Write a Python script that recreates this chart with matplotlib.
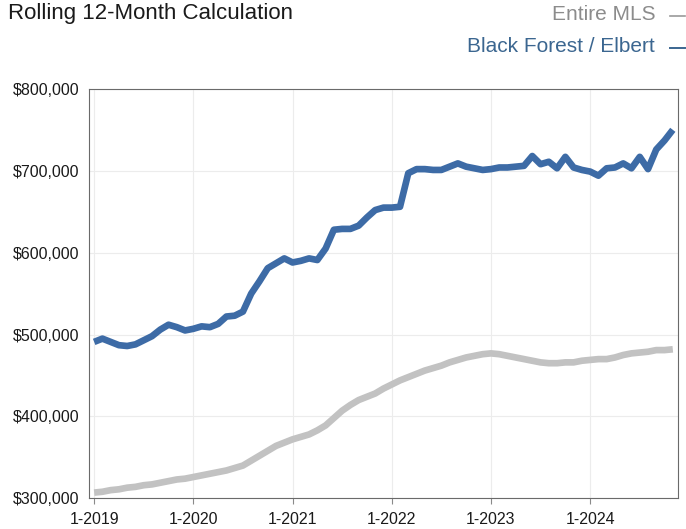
import numpy as np
import matplotlib.pyplot as plt
from matplotlib.ticker import FuncFormatter

plt.rcParams['font.family'] = ['Liberation Sans', 'DejaVu Sans']

# monthly rolling 12-month median sales price, Jan 2019 .. Nov 2024 (in $1000s)
months = np.arange(71)
year_ticks = [0, 12, 24, 36, 48, 60]
year_labels = ['1-2019', '1-2020', '1-2021', '1-2022', '1-2023', '1-2024']

black_forest = [491, 495, 491, 487, 486, 488, 493, 498, 506, 512, 509, 505,
                507, 510, 509, 513, 522, 523, 528, 550, 565, 581, 587, 593,
                588, 590, 593, 591, 605, 628, 629, 629, 633, 643, 652, 655,
                655, 656, 697, 702, 702, 701, 701, 705, 709, 705, 703, 701,
                702, 704, 704, 705, 706, 718, 708, 711, 703, 717, 704, 701,
                699, 694, 703, 704, 709, 703, 717, 702, 726, 737, 750]

entire_mls = [307, 308, 310, 311, 313, 314, 316, 317, 319, 321, 323, 324,
              326, 328, 330, 332, 334, 337, 340, 346, 352, 358, 364, 368,
              372, 375, 378, 383, 389, 398, 407, 414, 420, 424, 428, 434,
              439, 444, 448, 452, 456, 459, 462, 466, 469, 472, 474, 476,
              477, 476, 474, 472, 470, 468, 466, 465, 465, 466, 466, 468,
              469, 470, 470, 472, 475, 477, 478, 479, 481, 481, 482]

blue = '#3d6ba6'
grey = '#c2c2c2'

fig = plt.figure(figsize=(6.86, 5.29), dpi=100)
ax = fig.add_axes([0.130, 0.058, 0.858, 0.774])

ax.plot(months, np.array(entire_mls) * 1000, color=grey, lw=4.8,
        solid_capstyle='butt', zorder=3)
ax.plot(months, np.array(black_forest) * 1000, color=blue, lw=4.8,
        solid_capstyle='butt', solid_joinstyle='round', zorder=4)

ax.set_xlim(-0.6, 70.6)
ax.set_ylim(300000, 800000)
ax.set_yticks(np.arange(300000, 800001, 100000))
ax.yaxis.set_major_formatter(FuncFormatter(lambda v, p: '${:,.0f}'.format(v)))
ax.set_xticks(year_ticks)
ax.set_xticklabels(year_labels)

ax.grid(True, color='#ececec', lw=0.8)
ax.set_axisbelow(True)
for s in ax.spines.values():
    s.set_color('#6a6a6a')
    s.set_linewidth(0.8)

ax.tick_params(axis='y', length=0, pad=7, labelsize=11.5, colors='#1a1a1a')
ax.tick_params(axis='x', length=4, width=0.8, color='#8a8a8a', pad=6,
               labelsize=11.5, labelcolor='#1a1a1a')

# header and series key
fig.text(0.012, 1 - 19 / 529, 'Rolling 12-Month Calculation', fontsize=16,
         color='#1a1a1a', va='baseline', ha='left')
fig.text(0.955, 1 - 15 / 529, 'Entire MLS', fontsize=15, color='#8c8c8c',
         va='center', ha='right')
fig.text(0.955, 1 - 47 / 529, 'Black Forest / Elbert', fontsize=15,
         color='#3b6690', va='center', ha='right')
fig.add_artist(plt.Line2D([0.976, 0.999], [1 - 16 / 529] * 2,
                          color='#9a9a9a', lw=1.2))
fig.add_artist(plt.Line2D([0.976, 0.999], [1 - 48 / 529] * 2,
                          color='#3b6690', lw=1.4))

fig.savefig('out.png', dpi=100)
